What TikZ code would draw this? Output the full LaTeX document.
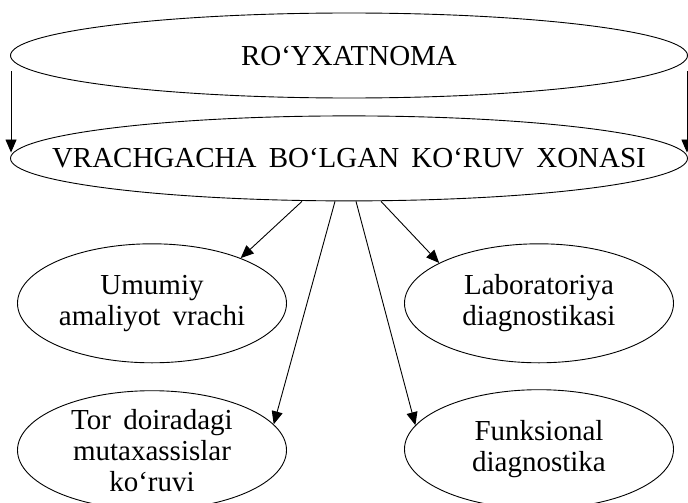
\documentclass[tikz,border=0pt]{standalone}
\usepackage{fontspec}
\setmainfont{Liberation Serif}
\usetikzlibrary{arrows.meta,positioning,shapes.geometric}
\newcommand{\wsp}{\hspace{0.42em}}

\begin{document}
\begin{tikzpicture}[x=1pt, y=-1pt, >={Triangle[length=13pt,width=11pt]}, line width=0.9pt,
    font=\fontsize{29}{31}\selectfont,
    bigoval/.style={draw, ellipse, inner xsep=-60pt, inner ysep=0pt, minimum width=677pt, minimum height=85pt},
    smalloval/.style={draw, ellipse, align=center, inner xsep=0pt, inner ysep=-6pt, minimum width=269pt, minimum height=119pt}]
        \useasboundingbox (0,0) rectangle (688,503);
        \node[bigoval] (rox) at (349,55.5) {RO‘YXATNOMA};
        \node[bigoval, below=17pt of rox] (vrach) {VRACHGACHA\wsp BO‘LGAN\wsp KO‘RUV\wsp XONASI};
        \node[smalloval, below=42pt of vrach.south, xshift=-197pt] (umum) {Umumiy\\amaliyot\wsp vrachi};
        \node[smalloval, below=42pt of vrach.south, xshift=190pt] (lab) {Laboratoriya\\diagnostikasi};
        \node[smalloval, below=27pt of umum] (tor) {Tor\wsp doiradagi\\mutaxassislar\\ko‘ruvi};
        \node[smalloval, below=26pt of lab] (funk) {Funksional\\diagnostika};
        \coordinate (lstart) at ([xshift=1pt,yshift=-16pt]rox.west);
        \coordinate (rstart) at ([xshift=-1pt,yshift=-16pt]rox.east);
        \draw[->] (lstart) -- (lstart |- vrach.179);
        \draw[->] (rstart) -- (rstart |- vrach.1);
        \draw[->] ([xshift=-47pt]vrach.south) -- (umum.27);
        \draw[->] ([xshift=-14pt]vrach.south) -- (tor.12);
        \draw[->] ([xshift=7pt]vrach.south) -- (funk.169);
        \draw[->] ([xshift=32pt]vrach.south) -- (lab.158);
      \end{tikzpicture}
\end{document}
